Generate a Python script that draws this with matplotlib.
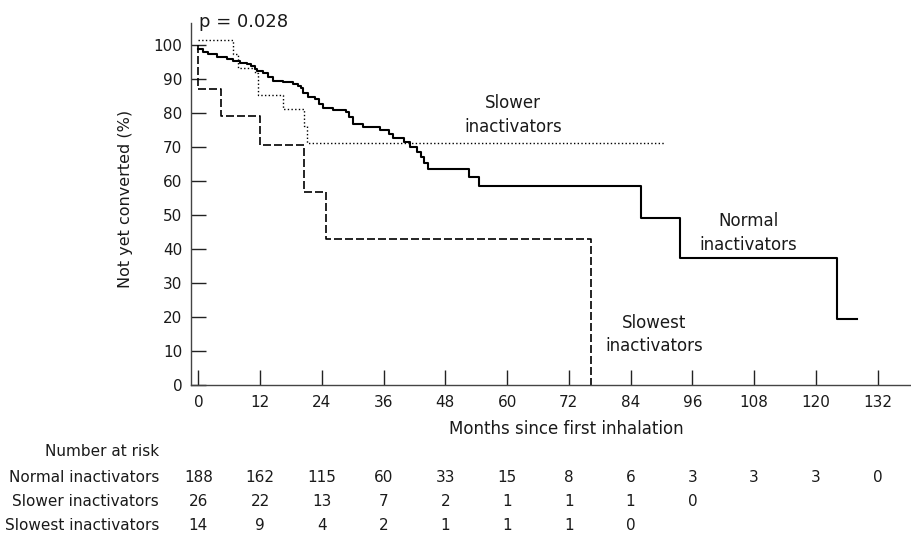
import matplotlib
matplotlib.use("Agg")
import matplotlib.pyplot as plt
import matplotlib.transforms as mtransforms

# Kaplan-Meier style steps (months, % not yet converted)
normal_t = [0, 1.0, 1.9, 3.6, 5.5, 6.8, 8.1, 9.4, 10.3, 11.0, 11.5, 12.6, 13.5, 14.5,
            16.4, 18.4, 19.3, 19.9, 20.3, 21.3, 22.6, 23.5, 24.2, 26.1, 28.7, 29.3,
            30.1, 32.0, 35.3, 37.0, 37.9, 39.9, 41.1, 42.5, 43.2, 43.9, 44.7, 52.6,
            54.5, 86.0, 93.6, 124.2, 127.9]
normal_v = [98.8, 98.0, 97.5, 96.6, 95.8, 95.3, 94.8, 94.4, 93.9, 93.1, 92.4, 91.7, 90.5, 89.5,
            89.2, 88.7, 87.9, 87.5, 85.8, 84.8, 84.1, 82.8, 81.4, 80.9, 80.4, 78.9,
            76.8, 76.0, 75.0, 73.8, 72.6, 71.6, 70.1, 68.6, 67.1, 65.4, 63.7, 61.3,
            58.6, 49.0, 37.3, 19.4, 19.4]

slower_t = [0, 6.8, 7.7, 11.0, 11.6, 16.4, 20.5, 21.1, 90.7]
slower_v = [101.5, 97.5, 93.3, 91.7, 85.3, 81.2, 76.2, 71.1, 71.1]

slowest_t = [0, 0, 4.5, 11.9, 20.6, 24.9, 76.3]
slowest_v = [100, 87.2, 79.1, 70.6, 56.9, 43.1, 0]

# number at risk table
risk_months = [0, 12, 24, 36, 48, 60, 72, 84, 96, 108, 120, 132]
risk_labels = ['Normal inactivators', 'Slower inactivators', 'Slowest inactivators']
risk_normal = [188, 162, 115, 60, 33, 15, 8, 6, 3, 3, 3, 0]
risk_slower = [26, 22, 13, 7, 2, 1, 1, 1, 0]
risk_slowest = [14, 9, 4, 2, 1, 1, 1, 0]

plt.rcParams['font.family'] = 'DejaVu Sans'

fig = plt.figure(figsize=(9.12, 5.33), dpi=100)
ax = fig.add_axes([0.2091, 0.2777, 0.791, 0.6797])

ax.step(normal_t, normal_v, where='post', color='black', lw=1.5)
ax.step(slower_t, slower_v, where='post', color='black', lw=1.0, linestyle=':')
ax.step(slowest_t, slowest_v, where='post', color='black', lw=1.2, dashes=(4.8, 1.8))

ax.set_xlim(-1.48, 138.7)
ax.set_ylim(0, 106.6)
ax.set_xticks(range(0, 133, 12))
ax.set_yticks(range(0, 101, 10))
for s in ['top', 'right']:
    ax.spines[s].set_visible(False)
for s in ['left', 'bottom']:
    ax.spines[s].set_color('#444444')
    ax.spines[s].set_linewidth(1.0)
ax.tick_params(axis='both', direction='in', length=10.5, width=1.0, colors='#222222',
               labelsize=11, labelcolor='#1a1a1a')
ax.tick_params(axis='x', pad=7)
ax.tick_params(axis='y', pad=6)

ax.set_xlabel('Months since first inhalation', fontsize=12, color='#1a1a1a')
ax.xaxis.set_label_coords(0.52, -0.097)
ax.set_ylabel('Not yet converted (%)', fontsize=11.5, color='#1a1a1a')
ax.yaxis.set_label_coords(-0.08, 0.513)

ax.text(0.1, 106.9, 'p = 0.028', fontsize=13, va='center', ha='left', clip_on=False,
        color='#1a1a1a')
ax.text(61.2, 79.4, 'Slower\ninactivators', fontsize=12, ha='center', va='center',
        linespacing=1.4, color='#1a1a1a')
ax.text(106.9, 44.7, 'Normal\ninactivators', fontsize=12, ha='center', va='center',
        linespacing=1.4, color='#1a1a1a')
ax.text(88.6, 14.9, 'Slowest\ninactivators', fontsize=12, ha='center', va='center',
        linespacing=1.4, color='#1a1a1a')

# number at risk table below the axis
trans = mtransforms.blended_transform_factory(ax.transData, fig.transFigure)
label_x = 159 / 912
fig.text(label_x, 1 - 452 / 533, 'Number at risk', fontsize=11, ha='right', va='center',
         color='#1a1a1a')
row_y = [1 - 477 / 533, 1 - 501 / 533, 1 - 525 / 533]
for lab, counts, y in zip(risk_labels, [risk_normal, risk_slower, risk_slowest], row_y):
    fig.text(label_x, y, lab, fontsize=11, ha='right', va='center', color='#1a1a1a')
    for m, n in zip(risk_months, counts):
        ax.text(m, y, str(n), fontsize=11, ha='center', va='center', transform=trans,
                clip_on=False, color='#1a1a1a')

fig.savefig('out.png', dpi=100)
